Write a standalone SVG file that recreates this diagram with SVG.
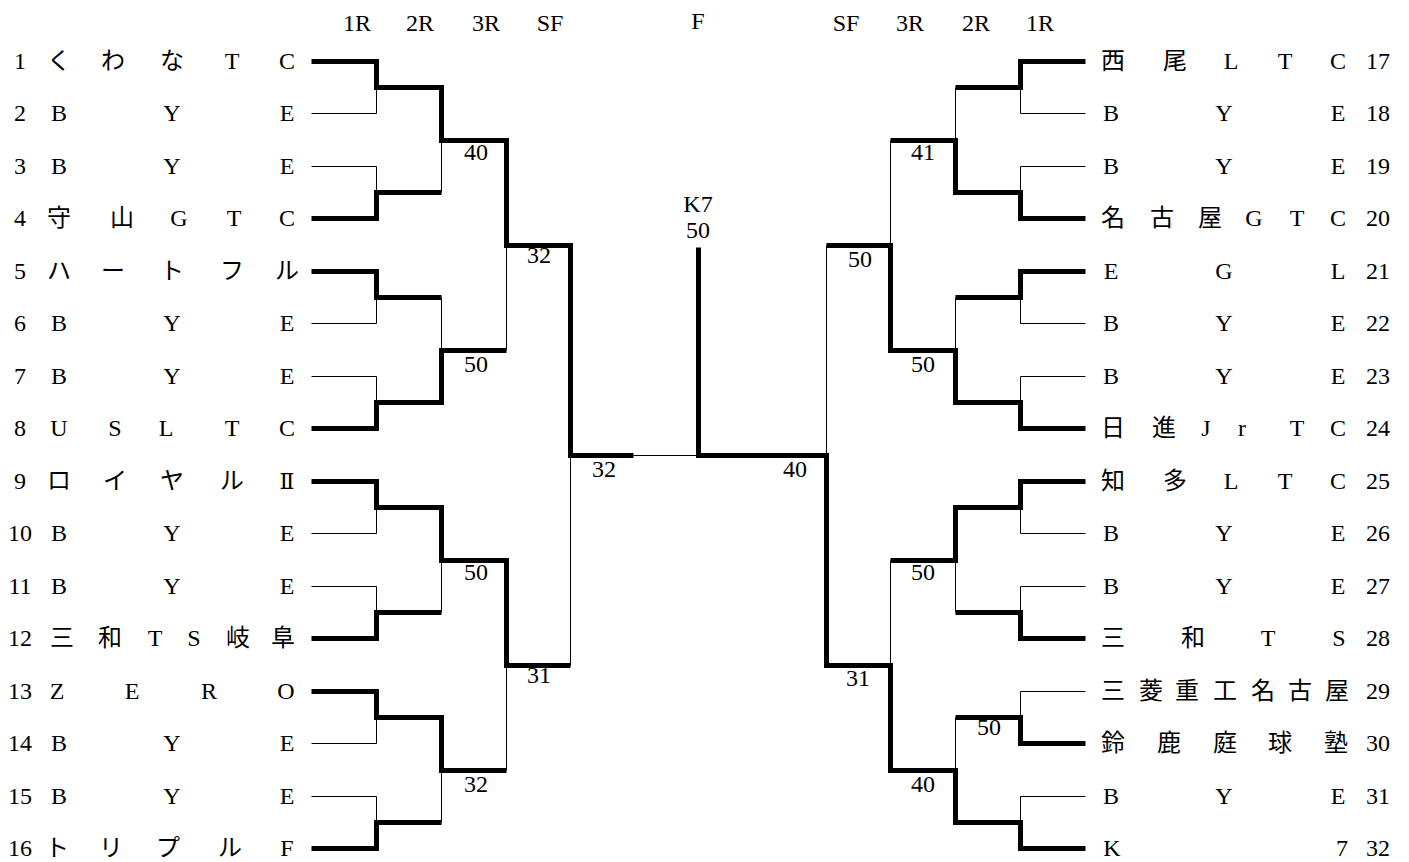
<svg xmlns="http://www.w3.org/2000/svg" width="1409" height="862" viewBox="0 0 1409 862">
<style>
text{font-family:"Liberation Serif","Noto Sans CJK JP",serif;font-size:24px;fill:#000;text-anchor:middle}
.roman{font-family:"DejaVu Serif","Liberation Serif","Noto Sans CJK JP",serif;font-size:22px}
.thin{fill:none;stroke:#000;stroke-width:1}
.thick{fill:none;stroke:#000;stroke-width:5;stroke-linejoin:miter;stroke-linecap:butt}
</style>
<rect width="1409" height="862" fill="#fff"/>
<g id="headers">
<text x="357" y="31">1R</text><text x="420" y="31">2R</text><text x="486" y="31">3R</text><text x="550" y="31">SF</text>
<text x="698" y="29">F</text>
<text x="846" y="31">SF</text><text x="910" y="31">3R</text><text x="976" y="31">2R</text><text x="1040" y="31">1R</text>
</g>
<g id="connectors" transform="translate(0.5,0.5)">
<g class="thin">
<path d="M311,113H376V87M311,166H376V192M311,323H376V297M311,376H376V402M311,533H376V507M311,586H376V612M311,743H376V717M311,796H376V822"/>
<path d="M441,140V192M441,297V350M441,560V612M441,770V822M506,245V350M506,665V770M570,455V665M633,455H698"/>
<path d="M1085,113H1020V87M1085,166H1020V192M1085,323H1020V297M1085,376H1020V402M1085,533H1020V507M1085,586H1020V612M1085,691H1020V717M1085,796H1020V822"/>
<path d="M955,87V140M955,297V350M955,560V612M955,717V770M890,140V245M890,560V665M826,245V455"/>
</g>
<g class="thick">
<path d="M311,61H376V87H441V140H506V245H570V455H633"/>
<path d="M311,218H376V192H441"/>
<path d="M311,271H376V297H441"/>
<path d="M311,428H376V402H441V350H506"/>
<path d="M311,481H376V507H441V560H506V665H570"/>
<path d="M311,638H376V612H441"/>
<path d="M311,691H376V717H441V770H506"/>
<path d="M311,848H376V822H441"/>
<path d="M1085,61H1020V87H955"/>
<path d="M1085,218H1020V192H955V140H890"/>
<path d="M1085,271H1020V297H955"/>
<path d="M1085,428H1020V402H955V350H890V245H826"/>
<path d="M1085,481H1020V507H955V560H890"/>
<path d="M1085,638H1020V612H955"/>
<path d="M1085,743H1020V717H955"/>
<path d="M1085,848H1020V822H955V770H890V665H826V455H698V247"/>
</g>
</g>
<g id="scores">
<text x="476" y="160">40</text><text x="539" y="263">32</text><text x="476" y="372">50</text>
<text x="604" y="477">32</text><text x="476" y="580">50</text><text x="539" y="683">31</text><text x="476" y="792">32</text>
<text x="698" y="212">K7</text><text x="698" y="238">50</text>
<text x="923" y="160">41</text><text x="860" y="267">50</text><text x="923" y="372">50</text>
<text x="795" y="477">40</text><text x="923" y="580">50</text><text x="858" y="686">31</text>
<text x="989" y="735">50</text><text x="923" y="792">40</text>
</g>
<g id="p1"><text x="20" y="69">1</text><text x="59 113 172 232 287" y="69">くわなTC</text></g>
<g id="p2"><text x="20" y="121">2</text><text x="59 172 287" y="121">BYE</text></g>
<g id="p3"><text x="20" y="174">3</text><text x="59 172 287" y="174">BYE</text></g>
<g id="p4"><text x="20" y="226">4</text><text x="59 122 179 234 287" y="226">守山GTC</text></g>
<g id="p5"><text x="20" y="279">5</text><text x="59 113 172 232 287" y="279">ハートフル</text></g>
<g id="p6"><text x="20" y="331">6</text><text x="59 172 287" y="331">BYE</text></g>
<g id="p7"><text x="20" y="384">7</text><text x="59 172 287" y="384">BYE</text></g>
<g id="p8"><text x="20" y="436">8</text><text x="59 115 166 232 287" y="436">USLTC</text></g>
<g id="p9"><text x="20" y="489">9</text><text x="59 115 172 232" y="489">ロイヤル</text><text class="roman" x="287" y="489">Ⅱ</text></g>
<g id="p10"><text x="20" y="541">10</text><text x="59 172 287" y="541">BYE</text></g>
<g id="p11"><text x="20" y="594">11</text><text x="59 172 287" y="594">BYE</text></g>
<g id="p12"><text x="20" y="646">12</text><text x="62 110 155 194 238 283" y="646">三和TS岐阜</text></g>
<g id="p13"><text x="20" y="699">13</text><text x="57 132 209 286" y="699">ZERO</text></g>
<g id="p14"><text x="20" y="751">14</text><text x="59 172 287" y="751">BYE</text></g>
<g id="p15"><text x="20" y="804">15</text><text x="59 172 287" y="804">BYE</text></g>
<g id="p16"><text x="20" y="856">16</text><text x="57 111 168 230 287" y="856">トリプルF</text></g>
<g id="p17"><text x="1113 1175 1231 1285 1338" y="69">西尾LTC</text><text x="1378" y="69">17</text></g>
<g id="p18"><text x="1111 1224 1338" y="121">BYE</text><text x="1378" y="121">18</text></g>
<g id="p19"><text x="1111 1224 1338" y="174">BYE</text><text x="1378" y="174">19</text></g>
<g id="p20"><text x="1113 1162 1210 1254 1297 1338" y="226">名古屋GTC</text><text x="1378" y="226">20</text></g>
<g id="p21"><text x="1111 1224 1338" y="279">EGL</text><text x="1378" y="279">21</text></g>
<g id="p22"><text x="1111 1224 1338" y="331">BYE</text><text x="1378" y="331">22</text></g>
<g id="p23"><text x="1111 1224 1338" y="384">BYE</text><text x="1378" y="384">23</text></g>
<g id="p24"><text x="1113 1164 1206 1242 1297 1338" y="436">日進JrTC</text><text x="1378" y="436">24</text></g>
<g id="p25"><text x="1113 1175 1231 1285 1338" y="489">知多LTC</text><text x="1378" y="489">25</text></g>
<g id="p26"><text x="1111 1224 1338" y="541">BYE</text><text x="1378" y="541">26</text></g>
<g id="p27"><text x="1111 1224 1338" y="594">BYE</text><text x="1378" y="594">27</text></g>
<g id="p28"><text x="1113 1193 1268 1339" y="646">三和TS</text><text x="1378" y="646">28</text></g>
<g id="p29"><text x="1113 1151 1187 1225 1263 1300 1337" y="699">三菱重工名古屋</text><text x="1378" y="699">29</text></g>
<g id="p30"><text x="1113 1169 1225 1280 1336" y="751">鈴鹿庭球塾</text><text x="1378" y="751">30</text></g>
<g id="p31"><text x="1111 1224 1338" y="804">BYE</text><text x="1378" y="804">31</text></g>
<g id="p32"><text x="1112 1342" y="856">K7</text><text x="1378" y="856">32</text></g>
</svg>
